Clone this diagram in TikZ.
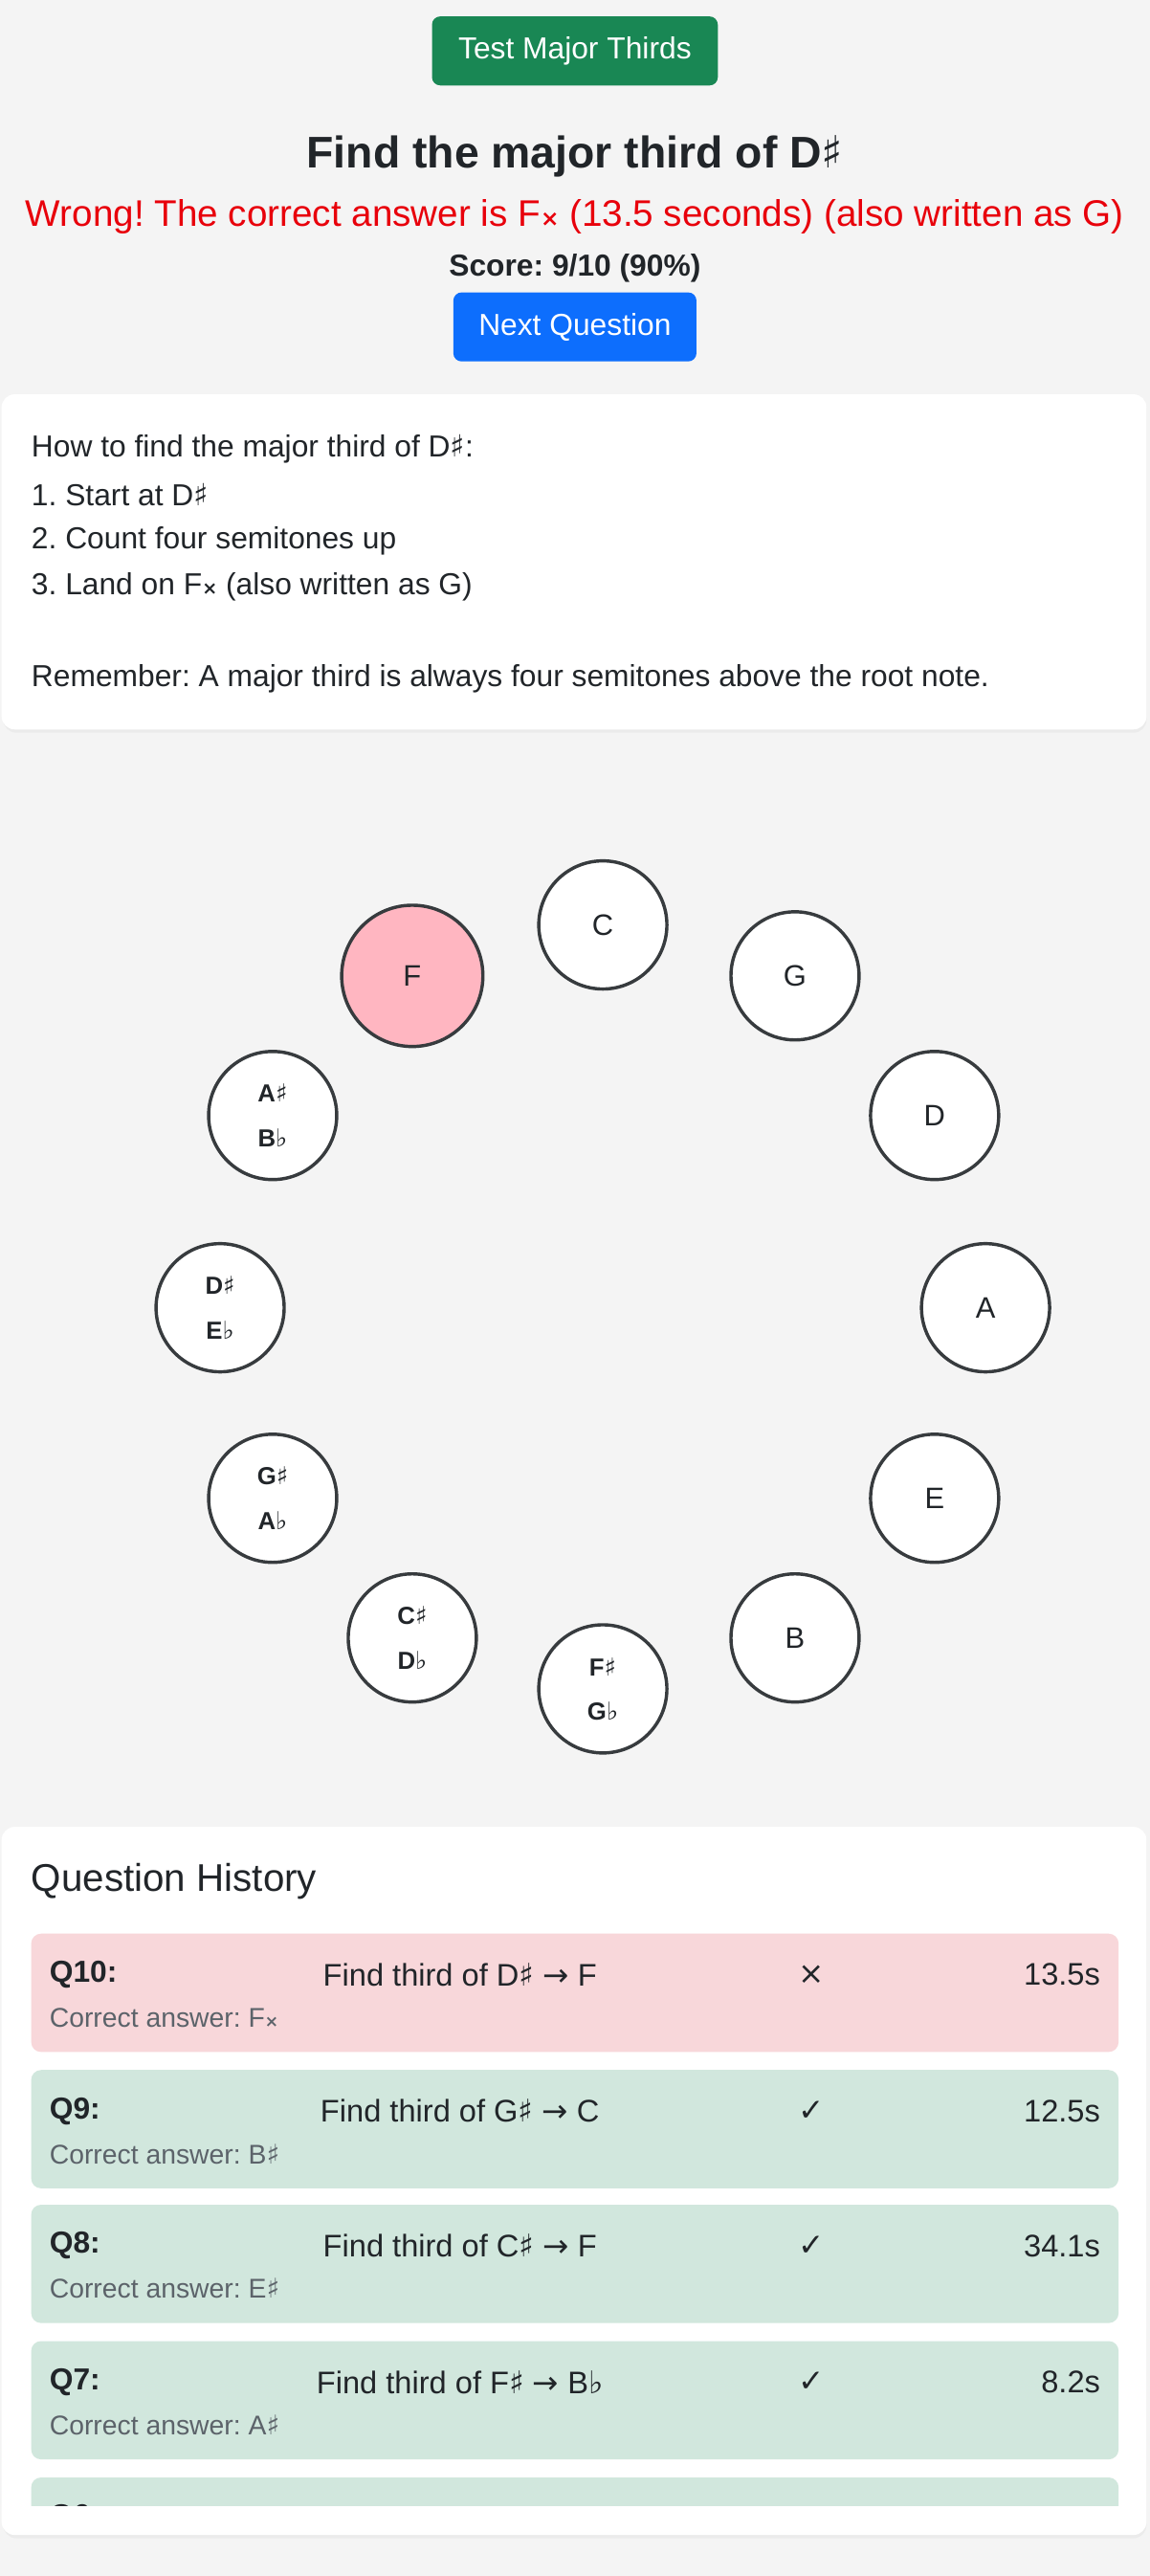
\documentclass[tikz,border=0pt]{standalone}
\usepackage{fontspec}
\setmainfont{Liberation Sans}
\newfontfamily\dv{DejaVu Sans}
\newcommand{\shp}{{\dv ♯}}
\newcommand{\flt}{{\dv ♭}}
\newcommand{\dsh}{{\dv\scalebox{0.6}{\textbf{×}}}}
\newcommand{\arr}{{\dv →}}
\definecolor{bg}{HTML}{F4F4F4}
\definecolor{btngreen}{HTML}{198754}
\definecolor{btnblue}{HTML}{0D6EFD}
\definecolor{txt}{HTML}{212529}
\definecolor{wrong}{HTML}{E8000B}
\definecolor{rowred}{HTML}{F8D7DA}
\definecolor{rowgreen}{HTML}{D1E7DD}
\definecolor{gray6}{HTML}{5C636A}
\definecolor{pinkf}{HTML}{FFB6C1}
\begin{document}
\frenchspacing
\begin{tikzpicture}[x=1pt,y=-1pt,
  fs/.style={font=\fontsize{#1}{#1}\selectfont},
  bfs/.style={font=\fontsize{#1}{#1}\bfseries\selectfont},
  note/.style={circle,draw=txt!90,line width=2pt,fill=white,minimum size=78pt,inner sep=0pt,align=center,text=txt},
  lft/.style={anchor=west,inner sep=0pt}]
\fill[bg] (0,0) rectangle (700,1568);
\useasboundingbox (0,0) rectangle (700,1568);
% top
\fill[btngreen,rounded corners=5pt] (263,10) rectangle (437,52);
\node[text=white,fs=18.5] (b1) at (350,31) {Test Major Thirds};
\node[bfs=27,text=txt] (title) at (350,95) {Find the major third of D\shp};
\node[fs=22.5,text=wrong] (wr) at (350,132) {Wrong! The correct answer is F\dsh\ (13.5 seconds) (also written as G)};
\node[bfs=18.5,text=txt] (sc) at (350,163) {Score: 9/10 (90\%)};
\fill[btnblue,rounded corners=5pt] (276,178) rectangle (424,220);
\node[text=white,fs=18.5] (b2) at (350,199) {Next Question};
% explanation card
\fill[black!8,rounded corners=8pt] (2,241) rectangle (698,446);
\fill[white,rounded corners=8pt] (1,240) rectangle (698,444);
\begin{scope}[every node/.style={lft,fs=18.5,text=txt}]
\node (l1) at (19,273) {How to find the major third of D\shp:};
\node (l2) at (19,301) {1. Start at D\shp};
\node (l3) at (19,329) {2. Count four semitones up};
\node (l4) at (19,357) {3. Land on F\dsh\ (also written as G)};
\node (l5) at (19,413) {Remember: A major third is always four semitones above the root note.};
\end{scope}
% circle of notes
\begin{scope}[fs=18]
\node[note] (nC) at (367,563) {C};
\node[note] (nG) at (484,594) {G};
\node[note] (nD) at (569,679) {D};
\node[note] (nA) at (600,796) {A};
\node[note] (nE) at (569,912) {E};
\node[note] (nB) at (484,997) {B};
\node[note,bfs=15] (nFs) at (367,1028) {F\shp\\[12pt]G\flt};
\node[note,bfs=15] (nCs) at (251,997) {C\shp\\[12pt]D\flt};
\node[note,bfs=15] (nGs) at (166,912) {G\shp\\[12pt]A\flt};
\node[note,bfs=15] (nDs) at (134,796) {D\shp\\[12pt]E\flt};
\node[note,bfs=15] (nAs) at (166,679) {A\shp\\[12pt]B\flt};
\node[note,fill=pinkf,minimum size=86pt] (nF) at (251,594) {F};
\end{scope}
% history card
\fill[black!8,rounded corners=8pt] (2,1113) rectangle (698,1545);
\fill[white,rounded corners=8pt] (1,1112) rectangle (698,1543);
\node[lft,fs=23.5,text=txt] (hist) at (19,1145) {Question History};
\begin{scope}
\clip (0,1100) rectangle (700,1525);
\foreach \y/\c/\q/\mid/\sym/\t/\ans [count=\i] in {
 1177/rowred/Q10:/{Find third of D\shp\ \arr\ F}/{\dv ×}/13.5s/{F\dsh},
 1260/rowgreen/Q9:/{Find third of G\shp\ \arr\ C}/{\dv ✓}/12.5s/{B\shp},
 1342/rowgreen/Q8:/{Find third of C\shp\ \arr\ F}/{\dv ✓}/34.1s/{E\shp},
 1425/rowgreen/Q7:/{Find third of F\shp\ \arr\ B\flt}/{\dv ✓}/8.2s/{A\shp},
 1508/rowgreen/Q6:/{Find third of D \arr\ F\shp}/{\dv ✓}/9.9s/{F\shp}}{
 \fill[\c,rounded corners=6pt] (19,\y) rectangle (681,\y+72);
 \node[lft,bfs=18.5,text=txt] (q\i) at (30,\y+25) {\q};
 \node[lft,fs=16.5,text=gray6] (a\i) at (30,\y+51) {Correct answer: \ans};
 \node[fs=19,text=txt] (m\i) at (280,\y+25) {\mid};
 \node[fs=19,text=txt] (s\i) at (494,\y+25) {\sym};
 \node[anchor=east,inner sep=0pt,fs=19,text=txt] (t\i) at (670,\y+25) {\t};
}
\end{scope}
\end{tikzpicture}
\end{document}
